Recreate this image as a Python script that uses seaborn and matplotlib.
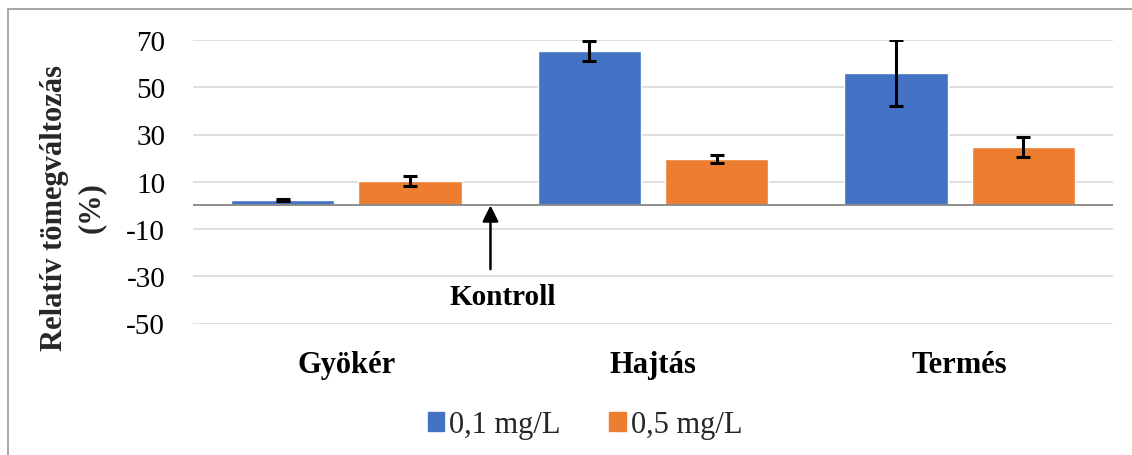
import matplotlib
matplotlib.use("Agg")
import matplotlib.pyplot as plt
import matplotlib.patches as mpatches
import matplotlib.lines as mlines
import seaborn as sns
import pandas as pd

# Data
organs = ["Gyökér", "Hajtás", "Termés"]
conc_labels = ["0,1 mg/L", "0,5 mg/L"]
change_01 = [2.3, 65.3, 56.0]
change_05 = [10.3, 19.6, 24.6]
err_01 = [0.4, 4.4, 13.9]
err_05 = [2.0, 1.7, 4.3]
y_ticks = [70, 50, 30, 10, -10, -30, -50]

colors = ["#4472C4", "#ED7D31"]

df = pd.DataFrame({
    "organ": organs * 2,
    "conc": [conc_labels[0]] * 3 + [conc_labels[1]] * 3,
    "value": change_01 + change_05,
    "err": err_01 + err_05,
})

sns.set_theme(style="white")
plt.rcParams["font.family"] = ["Liberation Serif", "DejaVu Serif"]
plt.rcParams["axes.unicode_minus"] = False

fig = plt.figure(figsize=(11.32, 4.56), dpi=100)
ax = fig.add_axes([193 / 1132, 1 - 324.5 / 456, 920 / 1132, (324.5 - 41) / 456])

sns.barplot(data=df, x="organ", y="value", hue="conc", order=organs,
            hue_order=conc_labels, palette=colors, errorbar=None,
            width=0.83, gap=0.19, saturation=1, legend=False, ax=ax)

# error bars on top of each bar
for cont, lab in zip(ax.containers, conc_labels):
    sub = df[df["conc"] == lab].set_index("organ").loc[organs]
    xs = [p.get_x() + p.get_width() / 2 for p in cont.patches]
    ax.errorbar(xs, sub["value"].values, yerr=sub["err"].values, fmt="none",
                ecolor="black", elinewidth=2.2, capsize=5, capthick=2.2, zorder=5)

ax.set_xlim(-0.5, 2.5)
ax.set_ylim(-50, 70)
ax.set_yticks(y_ticks)
ax.yaxis.grid(True, color="#d9d9d9", linewidth=1.2)
ax.set_axisbelow(True)
ax.axhline(0, color="#8c8c8c", linewidth=1.4, zorder=3)
for s in ax.spines.values():
    s.set_visible(False)

ax.tick_params(axis="y", length=0, pad=20, labelsize=21, labelcolor="black")
ax.tick_params(axis="x", length=0, pad=19, labelsize=22, labelcolor="black")
for t in ax.get_xticklabels():
    t.set_fontweight("bold")
ax.set_xlabel("")
ax.set_ylabel("")

# control marker
ax.annotate("", xy=(0.47, 0), xytext=(0.47, -27),
            arrowprops=dict(arrowstyle="-|>", color="black", lw=1.8,
                            mutation_scale=24, shrinkA=0, shrinkB=0))
ax.text(0.51, -38.5, "Kontroll", ha="center", va="center",
        fontsize=21, fontweight="bold", color="black")

fig.text(73 / 1132, 1 - 208 / 456, "Relatív tömegváltozás\n(%)", rotation=90,
         ha="center", va="center", multialignment="center",
         fontsize=22, fontweight="bold", linespacing=1.32)

handles = [mpatches.Patch(color=c, label=l) for c, l in zip(colors, conc_labels)]
fig.legend(handles=handles, loc="center", bbox_to_anchor=(585 / 1132, 1 - 426 / 456),
           ncol=2, frameon=False, fontsize=22, handlelength=0.55, handleheight=0.55,
           handletextpad=0.15, columnspacing=1.6)

# chart-area border
fig.add_artist(mlines.Line2D([8 / 1132, 1], [1 - 10 / 456, 1 - 10 / 456],
                             color="#9f9f9f", lw=1.3, transform=fig.transFigure))
fig.add_artist(mlines.Line2D([8 / 1132, 8 / 1132], [0, 1 - 10 / 456],
                             color="#9f9f9f", lw=1.3, transform=fig.transFigure))

fig.savefig("out.png", dpi=100)
